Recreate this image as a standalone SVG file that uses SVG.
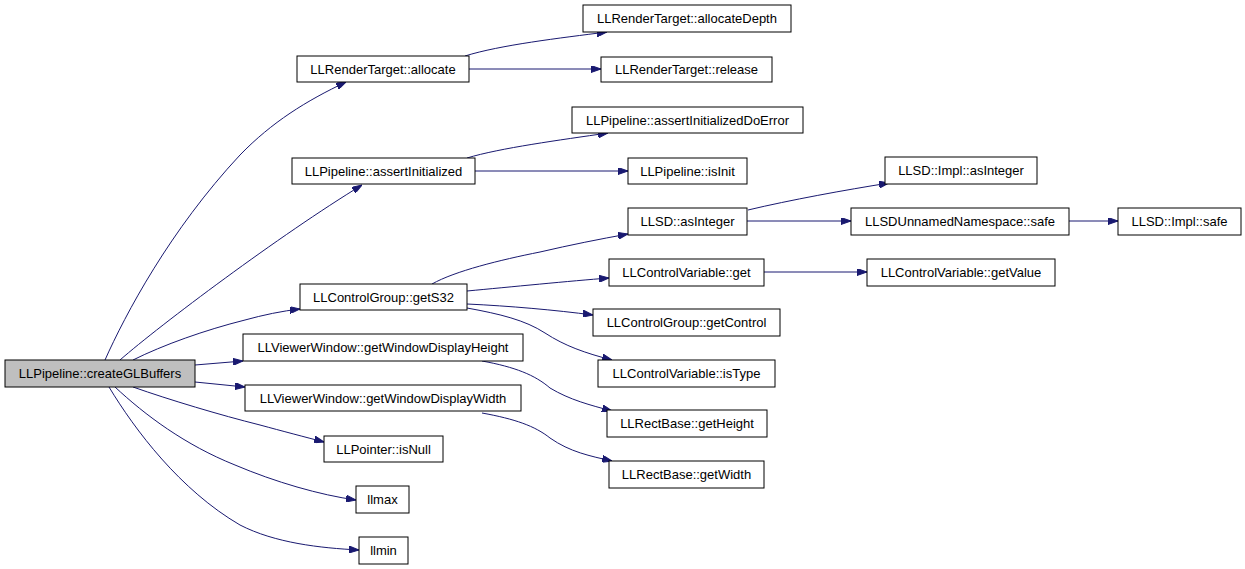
<svg xmlns="http://www.w3.org/2000/svg" width="1245" height="569" viewBox="0 0 1245 569">
<style>
.n rect{fill:#ffffff;stroke:#000000;stroke-width:1}
.n.root rect{fill:#bfbfbf}
.n text{font-family:"Liberation Sans",Arial,sans-serif;font-size:13px;fill:#000000;text-anchor:middle}
.e path{fill:none;stroke:#191970;stroke-width:1;marker-end:url(#arr)}
</style>
<defs>
<marker id="arr" viewBox="0 0 10 7" refX="10" refY="3.5" markerWidth="10" markerHeight="7" markerUnits="userSpaceOnUse" orient="auto">
<path d="M0,0 L10,3.5 L0,7 z" fill="#191970" stroke="#191970" stroke-width="1"/>
</marker>
</defs>
<rect width="1245" height="569" fill="#ffffff"/>
<g id="connectors" class="e">
<path d="M105,360 C125,315 170,230 240,155 C272,122 306,101 346,82"/>
<path d="M120,360 C160,325 280,235 362,185"/>
<path d="M133,360 C163,345 205,330 245,320 C263,315 282,311 300,309"/>
<path d="M195,365 L243,361"/>
<path d="M195,382 L245,387"/>
<path d="M133,387 C170,400 220,415 260,425 C282,431 305,437 324,442"/>
<path d="M115,387 C145,415 185,445 235,465 C275,482 320,495 356,500"/>
<path d="M109,387 C135,430 180,490 240,525 C275,543 320,548 359,550"/>
<path d="M465,56 C500,45 560,38 607,32"/>
<path d="M469,69 L601,69"/>
<path d="M467,158 C500,148 560,140 608,133"/>
<path d="M475,171 L628,171"/>
<path d="M432,284 C455,271 500,260 540,252 C570,245 600,239 628,234"/>
<path d="M467,291 C510,287 570,281 609,278"/>
<path d="M467,304 C510,306 555,310 593,315"/>
<path d="M467,308 C500,314 525,320 545,333 C565,346 585,353 612,360"/>
<path d="M482,361 C515,367 535,375 550,388 C570,400 590,405 612,411"/>
<path d="M482,413 C515,419 535,426 550,438 C570,452 590,456 612,461"/>
<path d="M748,210 C790,200 845,190 889,183"/>
<path d="M747,221 L851,221"/>
<path d="M1069,221 L1118,221"/>
<path d="M764,272 L867,272"/>
</g>
<g id="n_createGLBuffers" class="n root"><rect x="5" y="360" width="190" height="27"/><text x="100" y="377.5">LLPipeline::createGLBuffers</text></g>
<g id="n_allocate" class="n"><rect x="297" y="56" width="172" height="26"/><text x="383" y="73.5">LLRenderTarget::allocate</text></g>
<g id="n_allocateDepth" class="n"><rect x="583" y="5" width="208" height="27"/><text x="687" y="22.5">LLRenderTarget::allocateDepth</text></g>
<g id="n_release" class="n"><rect x="601" y="57" width="171" height="25"/><text x="686.5" y="73.5">LLRenderTarget::release</text></g>
<g id="n_assertInitializedDoError" class="n"><rect x="572" y="107" width="231" height="26"/><text x="687.5" y="124.5">LLPipeline::assertInitializedDoError</text></g>
<g id="n_assertInitialized" class="n"><rect x="292" y="158" width="183" height="26"/><text x="383.5" y="175.5">LLPipeline::assertInitialized</text></g>
<g id="n_isInit" class="n"><rect x="628" y="158" width="119" height="26"/><text x="687.5" y="175.5">LLPipeline::isInit</text></g>
<g id="n_implAsInteger" class="n"><rect x="885" y="157" width="152" height="27"/><text x="961" y="174.5">LLSD::Impl::asInteger</text></g>
<g id="n_asInteger" class="n"><rect x="628" y="208" width="119" height="27"/><text x="687.5" y="225.5">LLSD::asInteger</text></g>
<g id="n_unnamedSafe" class="n"><rect x="851" y="208" width="218" height="27"/><text x="960" y="225.5">LLSDUnnamedNamespace::safe</text></g>
<g id="n_implSafe" class="n"><rect x="1118" y="208" width="123" height="27"/><text x="1179.5" y="225.5">LLSD::Impl::safe</text></g>
<g id="n_cvGet" class="n"><rect x="609" y="259" width="155" height="27"/><text x="686.5" y="276.5">LLControlVariable::get</text></g>
<g id="n_cvGetValue" class="n"><rect x="867" y="259" width="188" height="27"/><text x="961" y="276.5">LLControlVariable::getValue</text></g>
<g id="n_getS32" class="n"><rect x="300" y="284" width="167" height="26"/><text x="383.5" y="301.5">LLControlGroup::getS32</text></g>
<g id="n_getControl" class="n"><rect x="593" y="309" width="187" height="27"/><text x="686.5" y="326.5">LLControlGroup::getControl</text></g>
<g id="n_getWDH" class="n"><rect x="243" y="334" width="280" height="27"/><text x="383" y="351.5">LLViewerWindow::getWindowDisplayHeight</text></g>
<g id="n_isType" class="n"><rect x="598" y="360" width="177" height="27"/><text x="686.5" y="377.5">LLControlVariable::isType</text></g>
<g id="n_getWDW" class="n"><rect x="245" y="385" width="276" height="26"/><text x="383" y="402.5">LLViewerWindow::getWindowDisplayWidth</text></g>
<g id="n_getHeight" class="n"><rect x="607" y="410" width="160" height="27"/><text x="687" y="427.5">LLRectBase::getHeight</text></g>
<g id="n_isNull" class="n"><rect x="324" y="436" width="119" height="26"/><text x="383.5" y="453.5">LLPointer::isNull</text></g>
<g id="n_getWidth" class="n"><rect x="609" y="461" width="155" height="27"/><text x="686.5" y="478.5">LLRectBase::getWidth</text></g>
<g id="n_llmax" class="n"><rect x="356" y="486" width="53" height="27"/><text x="382.5" y="503.5">llmax</text></g>
<g id="n_llmin" class="n"><rect x="359" y="537" width="49" height="27"/><text x="383.5" y="554.5">llmin</text></g>
</svg>
